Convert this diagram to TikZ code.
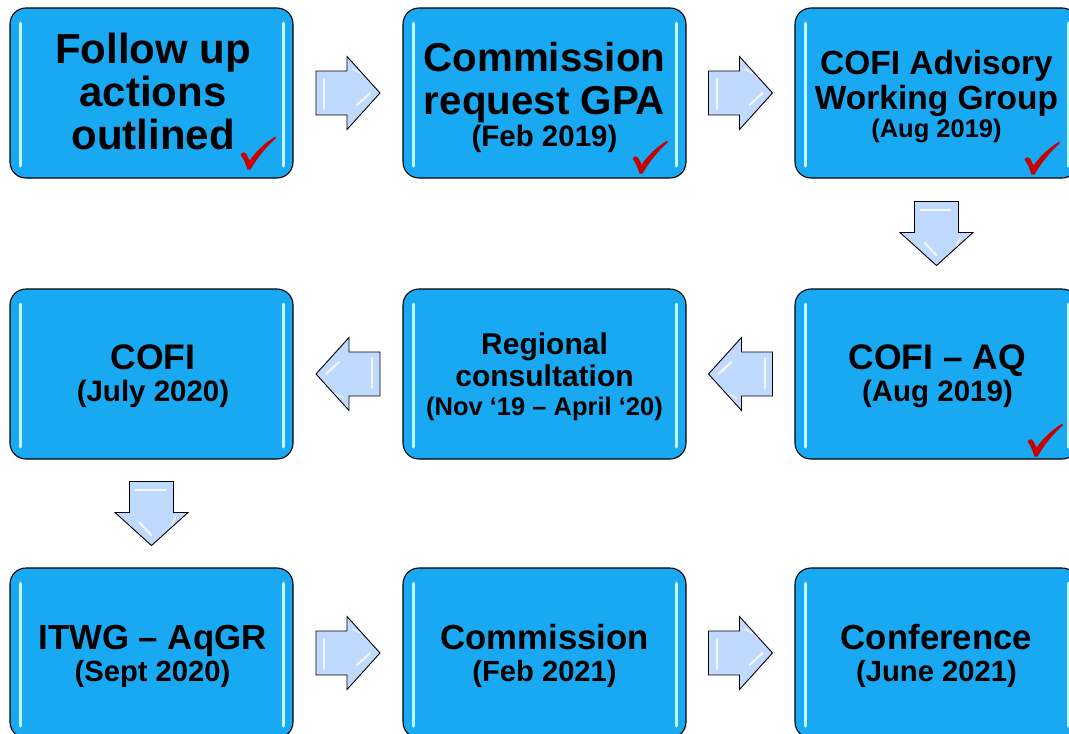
\documentclass[tikz,border=0pt]{standalone}
\usepackage{fontspec}
\setmainfont{Liberation Sans}
\usetikzlibrary{calc}
\definecolor{boxblue}{RGB}{25,168,242}
\definecolor{hlcyan}{RGB}{195,248,255}
\definecolor{arrblue}{RGB}{192,218,255}
\definecolor{chkred}{RGB}{200,0,0}
\tikzset{
  stagebox/.style={draw=black, line width=1.1pt, fill=boxblue, rounded corners=16pt,
    minimum width=283pt, minimum height=170pt, inner sep=0pt,
    path picture={
      \draw[hlcyan, line width=3pt, line cap=round]
        ([shift={(10pt,-15pt)}]path picture bounding box.north west) --
        ([shift={(10pt,12pt)}]path picture bounding box.south west);
      \draw[hlcyan, line width=3pt, line cap=round]
        ([shift={(-10pt,-15pt)}]path picture bounding box.north east) --
        ([shift={(-10pt,12pt)}]path picture bounding box.south east);
    }},
  boxtext/.style={align=center, inner sep=0pt, text=black},
  pics/blockarrow/.style={code={
    \draw[black, line width=0.9pt, fill=arrblue, line join=miter]
      (-32,-22) -- (-1,-22) -- (-1,-36.5) -- (32,0) -- (-1,36.5) -- (-1,22) -- (-32,22) -- cycle;
    \draw[white, line width=2pt, opacity=0.85, line cap=round] (-24,-14) -- (-24,16);
    \draw[white, line width=2pt, opacity=0.85, line cap=round] (9,12) -- (22,0);
    \draw[white, line width=1.5pt, opacity=0.7, line cap=round] (4,-24) -- (12,-20);
  }},
  pics/tick/.style={code={
    \fill[chkred] (-8,-14) .. controls (-6,-17) and (-4,-17) .. (-2,-14) -- (1,-8)
      .. controls (8,-18) and (18,-27) .. (27,-32) -- (27,-30)
      .. controls (18,-22) and (8,-10) .. (2,1) -- (-1,1)
      .. controls (-3,-5) and (-5,-10) .. cycle;
  }}
}
\begin{document}
\begin{tikzpicture}[x=1pt,y=-1pt]
\useasboundingbox (0,0) rectangle (1069,734);
\begin{scope}
\clip (0,0) rectangle (1069,734);
\node[stagebox] (b1) at (151.5,93) {};
\node[stagebox] (b2) at (544.5,93) {};
\node[stagebox] (b3) at (936.5,93) {};
\node[stagebox] (b4) at (151.5,374) {};
\node[stagebox] (b5) at (544.5,374) {};
\node[stagebox] (b6) at (936.5,374) {};
\node[stagebox] (b7) at (151.5,653) {};
\node[stagebox] (b8) at (544.5,653) {};
\node[stagebox] (b9) at (936.5,653) {};

\node[boxtext, font=\bfseries\fontsize{42}{43}\selectfont] (t1) at ($(b1.center)+(1.5,-2)$)
  {Follow up\\actions\\outlined};
\node[boxtext, font=\bfseries\fontsize{40.3}{32}\selectfont] (t2) at ($(b2.center)+(0,4)$)
  {Commission\\[11pt]request GPA\\{\fontsize{29.5}{32}\selectfont (Feb 2019)}};
\node[boxtext, font=\bfseries\fontsize{33.5}{35}\selectfont] (t3) at ($(b3.center)+(0,3.2)$)
  {COFI Advisory\\Working Group\\[-7pt]{\fontsize{25.5}{28}\selectfont (Aug 2019)}};
\node[boxtext, font=\bfseries\fontsize{35.5}{32}\selectfont] (t4) at ($(b4.center)+(1.5,2.1)$)
  {COFI\\{\fontsize{29.5}{32}\selectfont (July 2020)}};
\node[boxtext, font=\bfseries\fontsize{30}{32}\selectfont] (t5) at ($(b5.center)+(0,2.9)$)
  {Regional\\consultation\\[-3.6pt]{\fontsize{25.5}{28}\selectfont (Nov ‘19 – April ‘20)}};
\node[boxtext, font=\bfseries\fontsize{35.5}{32}\selectfont] (t6) at ($(b6.center)+(1,2.1)$)
  {COFI – AQ\\{\fontsize{29.5}{32}\selectfont (Aug 2019)}};
\node[boxtext, font=\bfseries\fontsize{34.8}{32}\selectfont] (t7) at ($(b7.center)+(1,3.1)$)
  {ITWG – AqGR\\{\fontsize{29.2}{32}\selectfont (Sept 2020)}};
\node[boxtext, font=\bfseries\fontsize{34.8}{32}\selectfont] (t8) at ($(b8.center)+(0,3.1)$)
  {Commission\\{\fontsize{29.2}{32}\selectfont (Feb 2021)}};
\node[boxtext, font=\bfseries\fontsize{34.8}{32}\selectfont] (t9) at ($(b9.center)+(0,3.1)$)
  {Conference\\{\fontsize{29.2}{32}\selectfont (June 2021)}};

\pic at ($(b1.east)!0.5!(b2.west)$) {blockarrow};
\pic at ($(b2.east)!0.5!(b3.west)$) {blockarrow};
\pic[rotate=-90] at ($(b3.south)!0.5!(b6.north)$) {blockarrow};
\pic[rotate=180] at ($(b6.west)!0.5!(b5.east)$) {blockarrow};
\pic[rotate=180] at ($(b5.west)!0.5!(b4.east)$) {blockarrow};
\pic[rotate=-90] at ($(b4.south)!0.5!(b7.north)$) {blockarrow};
\pic at ($(b7.east)!0.5!(b8.west)$) {blockarrow};
\pic at ($(b8.east)!0.5!(b9.west)$) {blockarrow};

\pic at ([shift={(-45,-10)}]b1.south east) {tick};
\pic at ([shift={(-46,-6)}]b2.south east) {tick};
\pic at ([shift={(-46,-5)}]b3.south east) {tick};
\pic at ([shift={(-43,-4)}]b6.south east) {tick};
\end{scope}
\end{tikzpicture}
\end{document}
